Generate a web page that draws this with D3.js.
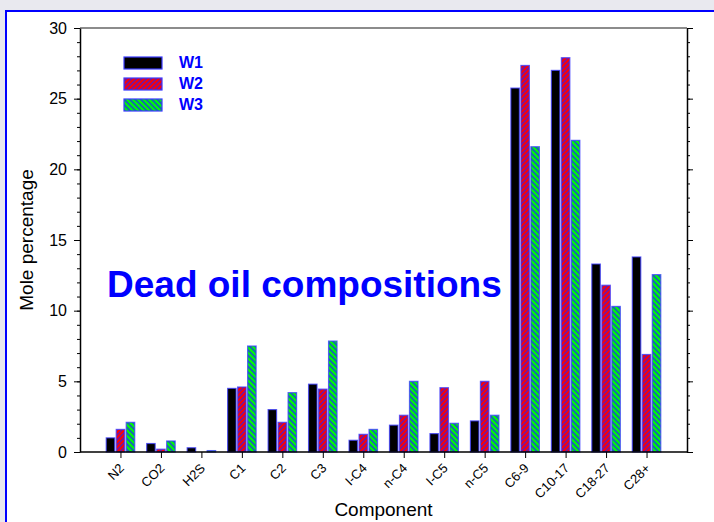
<!DOCTYPE html>
<html>
<head>
<meta charset="utf-8">
<script src="https://cdn.jsdelivr.net/npm/d3@7"></script>
<style>
  body { margin: 0; background: #e9e9ef; }
  svg { display: block; font-family: "Liberation Sans", Arial, sans-serif; }
</style>
</head>
<body>
<div id="chart"></div>
<script>
// Composants et séries
const components = ["N2", "CO2", "H2S", "C1", "C2", "C3", "I-C4", "n-C4", "I-C5", "n-C5", "C6-9", "C10-17", "C18-27", "C28+"];
const series = ["W1", "W2", "W3"];
const w1 = [1.0, 0.6, 0.3, 4.5, 3.0, 4.8, 0.83, 1.9, 1.3, 2.2, 25.75, 27.0, 13.3, 13.8];
const w2 = [1.6, 0.2, 0.0, 4.6, 2.1, 4.45, 1.25, 2.6, 4.55, 5.0, 27.35, 27.9, 11.8, 6.9];
const w3 = [2.1, 0.78, 0.1, 7.5, 4.2, 7.85, 1.6, 5.0, 2.03, 2.6, 21.6, 22.05, 10.3, 12.55];
const yTicks = [0, 5, 10, 15, 20, 25, 30];

const values = { W1: w1, W2: w2, W3: w3 };
const fills = { W1: "#000000", W2: "url(#hatchRed)", W3: "url(#hatchGreen)" };

const W = 714, H = 522;
const plotLeft = 80, plotRight = 687, plotTop = 28, plotBottom = 452;

const svg = d3.select("#chart").append("svg")
    .attr("width", W)
    .attr("height", H);

// Motifs hachurés
const defs = svg.append("defs");
function hatch(id, bg, size, angle, lw) {
    const p = defs.append("pattern")
        .attr("id", id)
        .attr("patternUnits", "userSpaceOnUse")
        .attr("width", size)
        .attr("height", size)
        .attr("patternTransform", `rotate(${angle})`);
    p.append("rect").attr("width", size).attr("height", size).attr("fill", bg);
    p.append("line")
        .attr("x1", size / 2).attr("y1", 0)
        .attr("x2", size / 2).attr("y2", size)
        .attr("stroke", "#2020ff")
        .attr("stroke-width", lw);
}
hatch("hatchRed", "#ff0000", 3.5, 45, 1.05);
hatch("hatchGreen", "#00ff00", 3.9, -45, 1.3);

// Cadre bleu
svg.append("rect")
    .attr("x", 6).attr("y", 11)
    .attr("width", W + 10).attr("height", H + 10)
    .attr("fill", "#ffffff")
    .attr("stroke", "#0000ff")
    .attr("stroke-width", 2);

const x = d3.scalePoint()
    .domain(components)
    .range([plotLeft, plotRight])
    .padding(1);

const xs = d3.scaleBand()
    .domain(series)
    .range([-15, 15]);

const y = d3.scaleLinear()
    .domain([0, 30])
    .range([plotBottom, plotTop]);

// Barres
const barData = components.flatMap((c, i) => series.map(s => ({ comp: c, s, value: values[s][i] })));
svg.append("g").selectAll("rect")
    .data(barData.filter(d => d.value > 0))
    .enter()
    .append("rect")
    .attr("x", d => x(d.comp) + xs(d.s) + 0.75)
    .attr("y", d => y(d.value))
    .attr("width", xs.bandwidth() - 1.5)
    .attr("height", d => y(0) - y(d.value))
    .attr("fill", d => fills[d.s])
    .attr("stroke", "#3a3aff")
    .attr("stroke-opacity", 0.75)
    .attr("stroke-width", 1.2);

// Ligne du haut
svg.append("line")
    .attr("x1", plotLeft).attr("x2", plotRight)
    .attr("y1", plotTop).attr("y2", plotTop)
    .attr("stroke", "#666")
    .attr("stroke-width", 1.5);

// Axe gauche : ticks mineurs puis majeurs
svg.append("g")
    .attr("transform", `translate(${plotLeft},0)`)
    .call(d3.axisLeft(y).ticks(30).tickSize(3).tickFormat(""))
    .call(g => g.select(".domain").remove());
svg.append("g")
    .attr("transform", `translate(${plotLeft},0)`)
    .call(d3.axisLeft(y).tickValues(yTicks).tickSize(6).tickSizeOuter(0).tickPadding(7))
    .call(g => g.selectAll("text").attr("font-size", 16).attr("font-family", null).attr("fill", "#000"))
    .call(g => g.select(".domain").attr("stroke-width", 1.5));

// Axe droit
svg.append("g")
    .attr("transform", `translate(${plotRight},0)`)
    .call(d3.axisRight(y).ticks(30).tickSize(3).tickFormat(""))
    .call(g => g.select(".domain").remove());
svg.append("g")
    .attr("transform", `translate(${plotRight},0)`)
    .call(d3.axisRight(y).tickValues(yTicks).tickSize(6).tickSizeOuter(0).tickFormat(""))
    .call(g => g.select(".domain").attr("stroke-width", 1.5));

// Axe du bas
svg.append("g")
    .attr("transform", `translate(0,${plotBottom})`)
    .call(d3.axisBottom(x).tickSize(6).tickSizeOuter(0))
    .call(g => g.select(".domain").attr("stroke-width", 1.5).attr("d", `M${plotLeft},0H${plotRight}`))
    .call(g => g.selectAll("text")
        .attr("font-size", 13)
        .attr("font-family", null)
        .attr("fill", "#000")
        .attr("text-anchor", "end")
        .attr("dy", 0)
        .attr("x", 4)
        .attr("y", 17)
        .attr("transform", "rotate(-45,4,17)"));

// Titres des axes
svg.append("text")
    .attr("x", plotLeft + (plotRight - plotLeft) / 2)
    .attr("y", 516)
    .attr("text-anchor", "middle")
    .attr("font-size", 19)
    .text("Component");

svg.append("text")
    .attr("transform", `translate(33,${(plotTop + plotBottom) / 2}) rotate(-90)`)
    .attr("text-anchor", "middle")
    .attr("font-size", 19)
    .text("Mole percentage");

// Titre du graphique
svg.append("text")
    .attr("x", 107)
    .attr("y", 297)
    .attr("font-size", 37)
    .attr("font-weight", "bold")
    .attr("fill", "#0000ff")
    .text("Dead oil compositions");

// Légende
const legend = svg.append("g");
series.forEach((s, i) => {
    const ly = 57 + i * 21;
    legend.append("rect")
        .attr("x", 124).attr("y", ly)
        .attr("width", 38).attr("height", 12)
        .attr("fill", fills[s])
        .attr("stroke", "#3a3aff")
        .attr("stroke-width", 1.2);
    legend.append("text")
        .attr("x", 179).attr("y", ly + 11)
        .attr("font-size", 16)
        .attr("font-weight", "bold")
        .attr("fill", "#0000ff")
        .text(s);
});
</script>
</body>
</html>
